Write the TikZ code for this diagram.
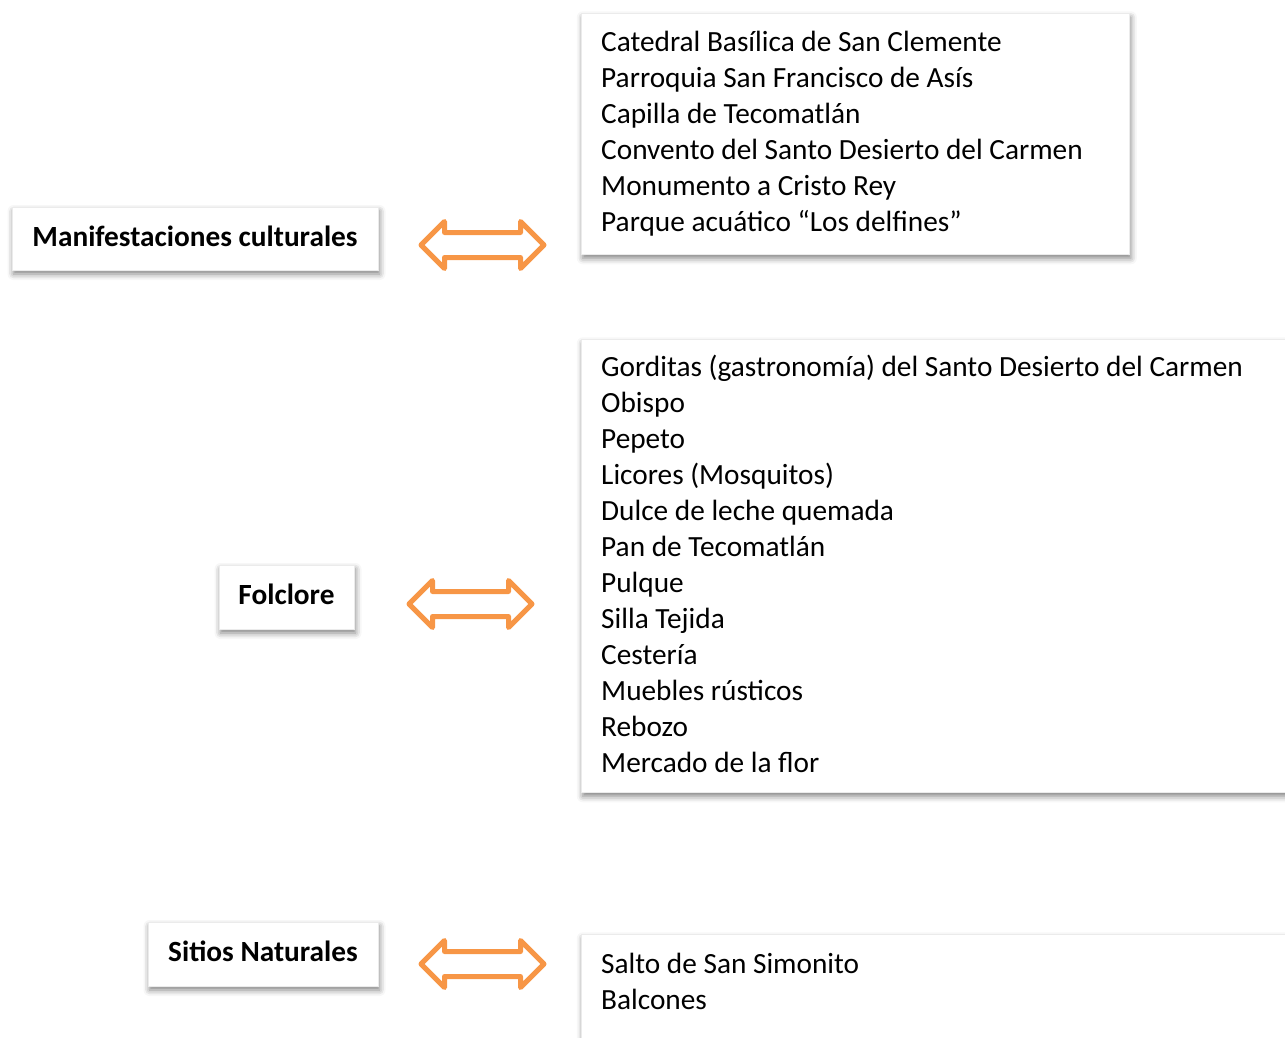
\documentclass[tikz,border=0pt]{standalone}
\usepackage{fontspec}
\setmainfont{Carlito}
\usetikzlibrary{shadows.blur}
\definecolor{arrowor}{HTML}{F79646}
\tikzset{
  x=1pt, y=-1pt,
  card/.style={fill=white, draw=black!8, line width=0.6pt, inner sep=0pt,
    blur shadow={shadow xshift=1.5pt, shadow yshift=-4pt, shadow blur radius=6pt, shadow opacity=50}},
  labelbox/.style={card, font=\fontsize{29.3}{36}\selectfont\bfseries},
  labeltext/.style={inner sep=0pt, font=\fontsize{29.3}{36}\selectfont\bfseries},
  listtext/.style={anchor=base west, inner sep=0pt, align=left, font=\fontsize{29.3}{36}\selectfont},
  dblarrow/.style={draw=arrowor, line width=5pt, line join=round, line cap=round}
}
\newcommand{\dblarr}[1]{%
  \draw[dblarrow, shift={(#1)}] (-61.5,0) -- (-38,-23.5) -- (-38,-12.5) -- (38,-12.5) -- (38,-23.5)
     -- (61.5,0) -- (38,23.5) -- (38,12.5) -- (-38,12.5) -- (-38,23.5) -- cycle;}
\begin{document}
\begin{tikzpicture}
\useasboundingbox (0,0) rectangle (1285,1037);
% left label boxes
\node[card, minimum width=366pt, minimum height=63pt] (l1) at (195,238.5) {};
\node[card, minimum width=135pt, minimum height=64pt] (l2) at (286.5,597) {};
\node[card, minimum width=230pt, minimum height=64pt] (l3) at (263,954) {};
\node[labeltext] (l1t) at (195,236) {Manifestaciones culturales};
\node[labeltext] (l2t) at (286.5,594) {Folclore};
\node[labeltext] (l3t) at (263,951) {Sitios Naturales};
% right boxes
\node[card, anchor=north west, minimum width=548pt, minimum height=241pt] (r1) at (581,13) {};
\node[card, anchor=north west, minimum width=730pt, minimum height=453pt] (r2) at (581,339) {};
\node[card, anchor=north west, minimum width=730pt, minimum height=140pt] (r3) at (581,934) {};
% list texts (anchor = baseline of the last line)
\node[listtext] (t1) at (601,231) {Catedral Basílica de San Clemente\\Parroquia San Francisco de Asís\\Capilla de Tecomatlán\\Convento del Santo Desierto del Carmen\\Monumento a Cristo Rey\\Parque acuático “Los delfines”};
\node[listtext] (t2) at (601,772) {Gorditas (gastronomía) del Santo Desierto del Carmen\\Obispo\\Pepeto\\Licores (Mosquitos)\\Dulce de leche quemada\\Pan de Tecomatlán\\Pulque\\Silla Tejida\\Cestería\\Muebles rústicos\\Rebozo\\Mercado de la flor};
\node[listtext] (t3) at (601,1009) {Salto de San Simonito\\Balcones};
% arrows
\coordinate (a1) at (482.5,245);
\coordinate (a2) at (470.5,604);
\coordinate (a3) at (482.5,964);
\dblarr{a1}
\dblarr{a2}
\dblarr{a3}
\end{tikzpicture}
\end{document}
